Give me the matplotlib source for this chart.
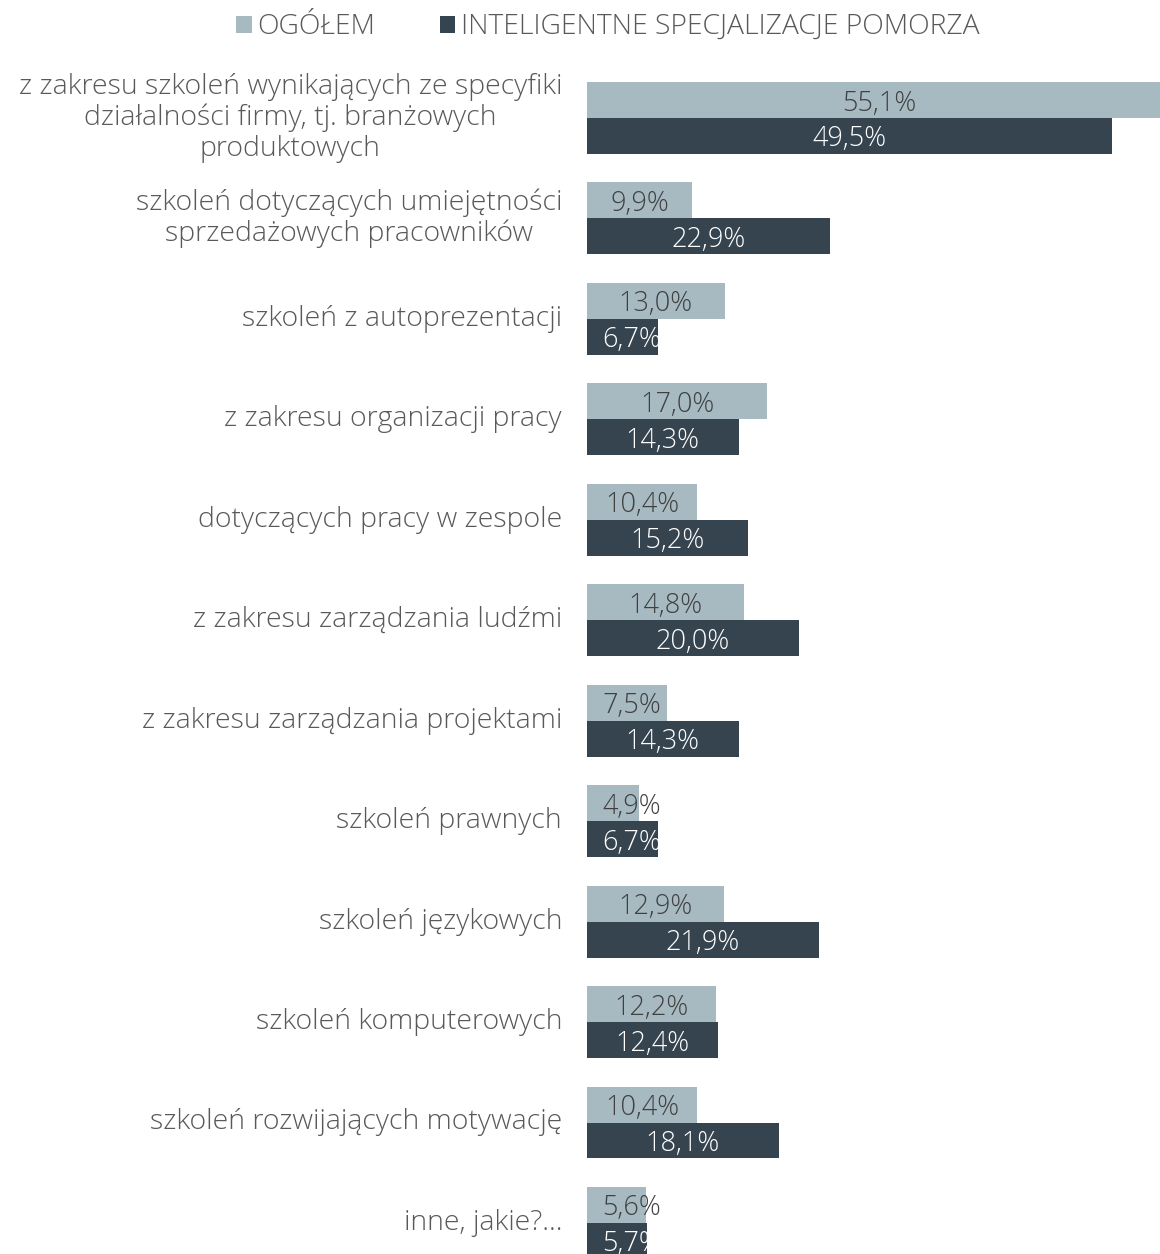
import matplotlib
matplotlib.use("Agg")
import matplotlib.pyplot as plt
import numpy as np

categories = [
    "z zakresu szkoleń wynikających ze specyfiki\ndziałalności firmy, tj. branżowych\nproduktowych",
    "szkoleń dotyczących umiejętności\nsprzedażowych pracowników",
    "szkoleń z autoprezentacji",
    "z zakresu organizacji pracy",
    "dotyczących pracy w zespole",
    "z zakresu zarządzania ludźmi",
    "z zakresu zarządzania projektami",
    "szkoleń prawnych",
    "szkoleń językowych",
    "szkoleń komputerowych",
    "szkoleń rozwijających motywację",
    "inne, jakie?...",
]
ogolem = [55.1, 9.9, 13.0, 17.0, 10.4, 14.8, 7.5, 4.9, 12.9, 12.2, 10.4, 5.6]
isp = [49.5, 22.9, 6.7, 14.3, 15.2, 20.0, 14.3, 6.7, 21.9, 12.4, 18.1, 5.7]
series_names = ["OGÓŁEM", "INTELIGENTNE SPECJALIZACJE POMORZA"]

c_light = "#a7bac1"
c_dark = "#36444f"
c_text = "#595959"
font = ["Open Sans", "DejaVu Sans"]
wt = "light"

W, H = 1160, 1254
fig = plt.figure(figsize=(W / 100, H / 100), dpi=100)
ax_left = 587 / W
ax = fig.add_axes([ax_left, 0, 1 - ax_left, 1 - 60 / H])

y = np.arange(len(categories))
h = 0.358
ax.barh(y - h / 2, ogolem, height=h, color=c_light, label=series_names[0])
ax.barh(y + h / 2, isp, height=h, color=c_dark, label=series_names[1])

px_per_unit = 10.6
ax.set_xlim(0, (W - 587) / px_per_unit)
period = 100.45
ax.set_ylim((H - 118) / period, (60 - 118) / period)

def fmt(v):
    return f"{v:.1f}%".replace(".", ",")

min_center = 4.2
vfs = 19.5
for yi, v in zip(y, ogolem):
    ax.text(max(v / 2, min_center), yi - h / 2, fmt(v), ha="center", va="center_baseline",
            fontsize=vfs, color="#404040", family=font, weight=wt, clip_on=False)
for yi, v in zip(y, isp):
    ax.text(max(v / 2, min_center), yi + h / 2, fmt(v), ha="center", va="center_baseline",
            fontsize=vfs, color="white", family=font, weight=wt, clip_on=True)

for yi, cat in zip(y, categories):
    ax.text(-2.35, yi, cat, ha="right", va="center", multialignment="center",
            fontsize=20.5, color=c_text, family=font, weight=wt, linespacing=1.13)

ax.set_yticks([])
ax.set_xticks([])
for s in ax.spines.values():
    s.set_visible(False)

leg = fig.legend(loc="center", bbox_to_anchor=(0.524, 1 - 27 / H), ncol=2, frameon=False,
                 prop={"family": font, "size": 20.3, "weight": wt}, handlelength=0.55, handleheight=0.55,
                 handletextpad=0.2, columnspacing=2.3)
for t in leg.get_texts():
    t.set_color(c_text)

fig.savefig("out.png", dpi=100)
